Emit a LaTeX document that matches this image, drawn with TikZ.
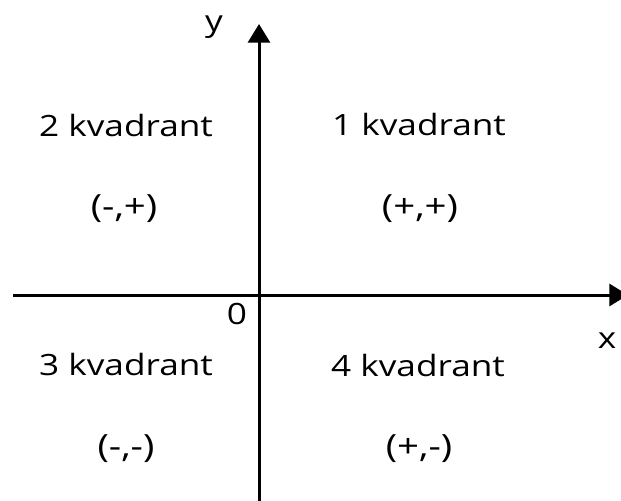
\documentclass[tikz,border=0pt]{standalone}
\usepackage{fontspec}
\setmainfont{Open Sans}
\usetikzlibrary{arrows.meta}
\newcommand{\widetxt}[1]{\scalebox{1.2}[1]{#1}}
\begin{document}
\begin{tikzpicture}[x=0.75pt,y=-0.75pt,
  axis/.style={line width=2.25pt,-{Triangle[width=16.5pt,length=14pt]}},
  lbl/.style={anchor=base,inner sep=0pt,font=\fontsize{22}{26}\selectfont},
  sgn/.style={anchor=base,inner sep=0pt,font=\fontsize{24}{28}\selectfont}]
\useasboundingbox (0,0) rectangle (621,500);
\coordinate (xs) at (13,295);
\coordinate (xe) at (628,295);
\coordinate (ys) at (259,505);
\coordinate (ye) at (259,24);
\draw[axis] (xs) -- (xe);
\draw[axis] (ys) -- (ye);
\node[lbl] (ylab) at (214,31) {\widetxt{y}};
\node[lbl] (xlab) at (607,348) {\widetxt{x}};
\node[lbl] (olab) at (237,324) {\widetxt{0}};
\node[lbl] (q2) at (126,136) {\widetxt{2 kvadrant}};
\node[sgn] (s2) at (124,217) {\widetxt{(-,+)}};
\node[lbl] (q1) at (419,135) {\widetxt{1 kvadrant}};
\node[sgn] (s1) at (420,217) {\widetxt{(+,+)}};
\node[lbl] (q3) at (126,375) {\widetxt{3 kvadrant}};
\node[sgn] (s3) at (126,457) {\widetxt{(-,-)}};
\node[lbl] (q4) at (418,376) {\widetxt{4 kvadrant}};
\node[sgn] (s4) at (419,457) {\widetxt{(+,-)}};
\end{tikzpicture}
\end{document}
